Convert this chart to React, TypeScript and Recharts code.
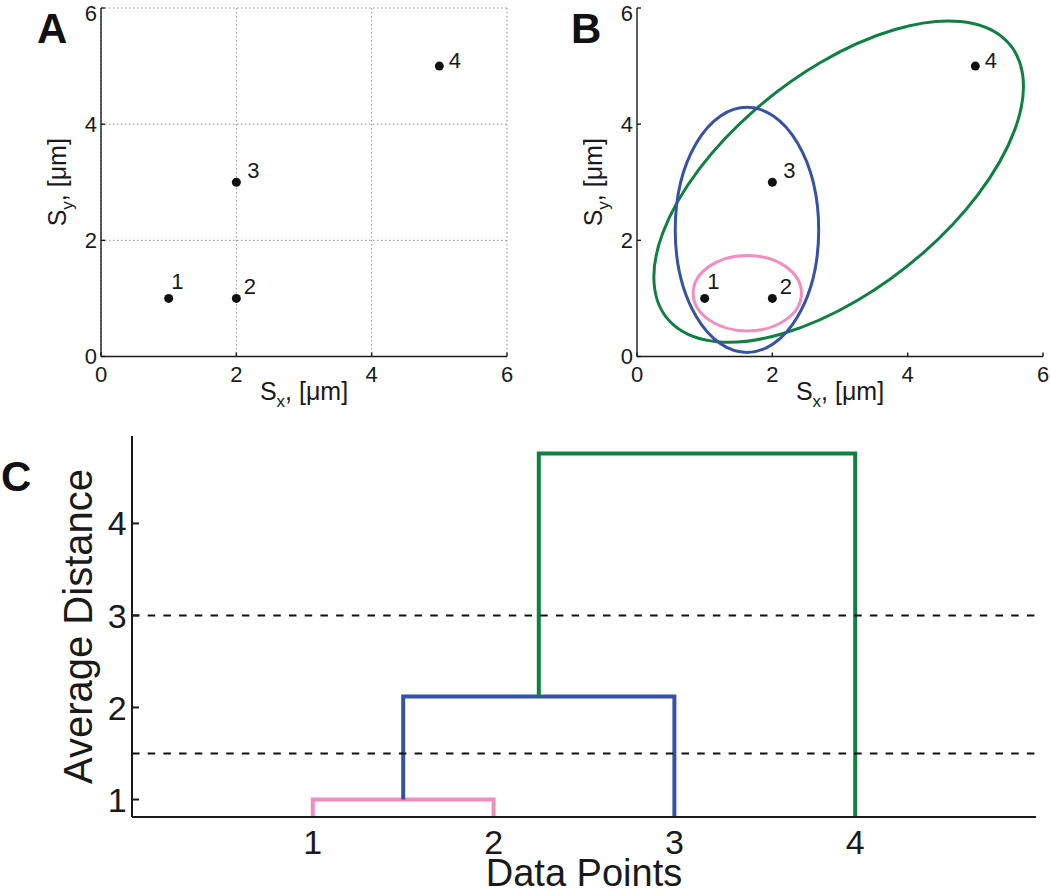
import React from 'react';
import * as Recharts from 'recharts';
import { ScatterChart, Scatter, XAxis, YAxis, CartesianGrid, LineChart, Line, ReferenceLine, Label } from 'recharts';

const R: any = Recharts;
const usePlot: () => any = R.usePlotArea ?? (() => null);

const FONT = '"Liberation Sans", Arial, Helvetica, sans-serif';
const INK = '#1a1a1a';
const PINK = '#f28dbf';
const BLUE = '#3552a5';
const GREEN = '#0f8042';

// panels A and B: the four points (µm)
const points = [
  { x: 1, y: 1, name: '1' },
  { x: 2, y: 1, name: '2' },
  { x: 2, y: 3, name: '3' },
  { x: 5, y: 5, name: '4' },
];
const spaceDomain = [0, 6];
const spaceTicks = [0, 2, 4, 6];

// panel B: cluster ellipses, centre + semi-axes in µm, tilt in degrees
const pinkEllipse = { cx: 1.63, cy: 1.09, rx: 0.8, ry: 0.65, tilt: 0 };
const blueEllipse = { cx: 1.625, cy: 2.18, rx: 1.06, ry: 2.11, tilt: 0 };
const greenEllipse = { cx: 2.98, cy: 3.01, rx: 3.47, ry: 1.75, tilt: 45.6 };

// panel C: dendrogram links (leaf position, average distance)
const pinkLink = [{ x: 1, y: 0 }, { x: 1, y: 1 }, { x: 2, y: 1 }, { x: 2, y: 0 }];
const blueLink = [{ x: 1.5, y: 1 }, { x: 1.5, y: 2.12 }, { x: 3, y: 2.12 }, { x: 3, y: 0 }];
const greenLink = [{ x: 2.25, y: 2.12 }, { x: 2.25, y: 4.76 }, { x: 4, y: 4.76 }, { x: 4, y: 0 }];
const cutHeights = [3, 1.5];
const leafDomain = [0, 5];
const leafTicks = [1, 2, 3, 4];
const distDomain = [0.81, 4.95];
const distTicks = [1, 2, 3, 4];

// where each point's number sits relative to its dot
const labelNudge: Record<string, [number, number]> = {
  '1': [2.5, -9],
  '2': [7.5, -4.5],
  '3': [11, -4],
  '4': [9.5, 1.5],
};

const SubTitle = ({ x, y, main, sub, rest, vertical }: any) => (
  <text
    x={x}
    y={y}
    transform={vertical ? `rotate(-90 ${x} ${y})` : undefined}
    textAnchor="middle"
    fontSize={25}
    fontFamily={FONT}
    fill={INK}
  >
    {main}
    <tspan fontSize={17} dy={7}>{sub}</tspan>
    <tspan dy={-7}>{rest}</tspan>
  </text>
);

const EllipseLayer = ({ shapes }: { shapes: { spec: any; color: string }[] }) => {
  const plot = usePlot();
  if (!plot) return null;
  const span = spaceDomain[1] - spaceDomain[0];
  const sx = plot.width / span;
  const sy = plot.height / span;
  return (
    <g>
      {shapes.map(({ spec, color }, i) => {
        const t = (spec.tilt * Math.PI) / 180;
        const px = plot.x + (spec.cx - spaceDomain[0]) * sx;
        const py = plot.y + plot.height - (spec.cy - spaceDomain[0]) * sy;
        const a = sx * Math.cos(t) * spec.rx;
        const b = -sy * Math.sin(t) * spec.rx;
        const c = -sx * Math.sin(t) * spec.ry;
        const d = -sy * Math.cos(t) * spec.ry;
        return (
          <circle
            key={i}
            cx={0}
            cy={0}
            r={1}
            transform={`matrix(${a} ${b} ${c} ${d} ${px} ${py})`}
            fill="none"
            stroke={color}
            strokeWidth={3}
            vectorEffect="non-scaling-stroke"
          />
        );
      })}
    </g>
  );
};

const renderPoint = (p: any) => {
  const [dx, dy] = labelNudge[p.payload.name] ?? [9, -3];
  return (
    <g>
      <circle cx={p.cx} cy={p.cy} r={4.5} fill="#111" />
      <text x={p.cx + dx} y={p.cy + dy} fontSize={22} fontFamily={FONT} fill={INK}>
        {p.payload.name}
      </text>
    </g>
  );
};

const axisLine = { stroke: INK, strokeWidth: 1.4 };
const smallTick = { fontSize: 22, fill: INK, fontFamily: FONT };

const SpacePanel = ({ left, width, axisWidth, rightGap, grid, ellipses }: any) => (
  <div style={{ position: 'absolute', left, top: 0 }}>
    <ScatterChart width={width} height={420} margin={{ top: 8, right: rightGap, bottom: 0, left: 0 }}>
      {grid && (
        <CartesianGrid xAxisId="bottom" yAxisId="left" stroke="#8f8f8f" strokeDasharray="1.5 2.5" />
      )}
      <XAxis
        xAxisId="bottom"
        type="number"
        dataKey="x"
        domain={spaceDomain}
        ticks={spaceTicks}
        height={63.5}
        tickSize={-4}
        tickMargin={13.5}
        axisLine={axisLine}
        tickLine={axisLine}
        tick={smallTick}
      >
        <Label
          content={(p: any) => (
            <SubTitle x={p.viewBox.x + p.viewBox.width / 2} y={p.viewBox.y + 43.5} main="S" sub="x" rest=", [μm]" />
          )}
        />
      </XAxis>
      <XAxis
        xAxisId="top"
        orientation="top"
        type="number"
        domain={spaceDomain}
        ticks={spaceTicks}
        height={0}
        tickSize={-4}
        tick={false}
        axisLine={axisLine}
        tickLine={axisLine}
      />
      <YAxis
        yAxisId="left"
        type="number"
        dataKey="y"
        domain={spaceDomain}
        ticks={spaceTicks}
        width={axisWidth}
        tickSize={-4}
        tickMargin={8}
        axisLine={axisLine}
        tickLine={axisLine}
        tick={smallTick}
      >
        <Label
          content={(p: any) => (
            <SubTitle
              x={p.viewBox.x + p.viewBox.width - 35}
              y={p.viewBox.y + p.viewBox.height / 2}
              main="S"
              sub="y"
              rest=", [μm]"
              vertical
            />
          )}
        />
      </YAxis>
      <YAxis
        yAxisId="right"
        orientation="right"
        type="number"
        domain={spaceDomain}
        ticks={spaceTicks}
        width={0}
        tickSize={-4}
        tick={false}
        axisLine={axisLine}
        tickLine={axisLine}
      />
      {ellipses && <EllipseLayer shapes={ellipses} />}
      <Scatter
        xAxisId="bottom"
        yAxisId="left"
        data={points}
        shape={renderPoint}
        isAnimationActive={false}
      />
    </ScatterChart>
  </div>
);

const bigTick = { fontSize: 34, fill: INK, fontFamily: FONT };
const thickAxis = { stroke: INK, strokeWidth: 2 };

const DendrogramPanel = () => (
  <div style={{ position: 'absolute', left: 0, top: 430 }}>
    <LineChart width={1050} height={465} margin={{ top: 6, right: 14, bottom: 0, left: 0 }}>
      <XAxis
        type="number"
        dataKey="x"
        domain={leafDomain}
        ticks={leafTicks}
        allowDataOverflow
        height={78}
        tickSize={0}
        tickMargin={13}
        tickLine={false}
        axisLine={thickAxis}
        tick={bigTick}
      >
        <Label
          content={(p: any) => (
            <text
              x={p.viewBox.x + p.viewBox.width / 2}
              y={p.viewBox.y + 69}
              textAnchor="middle"
              fontSize={38}
              fontFamily={FONT}
              fill={INK}
            >
              Data Points
            </text>
          )}
        />
      </XAxis>
      <YAxis
        type="number"
        domain={distDomain}
        ticks={distTicks}
        allowDataOverflow
        width={132}
        tickSize={-7}
        tickMargin={12.3}
        axisLine={thickAxis}
        tickLine={thickAxis}
        tick={bigTick}
      >
        <Label
          content={(p: any) => {
            const x = p.viewBox.x + 92;
            const y = p.viewBox.y + p.viewBox.height / 2;
            return (
              <text
                x={x}
                y={y}
                transform={`rotate(-90 ${x} ${y})`}
                textAnchor="middle"
                fontSize={40}
                fontFamily={FONT}
                fill={INK}
              >
                Average Distance
              </text>
            );
          }}
        />
      </YAxis>
      <Line data={pinkLink} dataKey="y" type="linear" stroke={PINK} strokeWidth={4} dot={false} isAnimationActive={false} />
      <Line data={blueLink} dataKey="y" type="linear" stroke={BLUE} strokeWidth={4} dot={false} isAnimationActive={false} />
      <Line data={greenLink} dataKey="y" type="linear" stroke={GREEN} strokeWidth={4} dot={false} isAnimationActive={false} />
      {cutHeights.map((h) => (
        <ReferenceLine key={h} y={h} stroke="#111" strokeWidth={2} strokeDasharray="7.5 8.2" />
      ))}
    </LineChart>
  </div>
);

export default function App() {
  return (
    <div
      style={{
        position: 'absolute',
        left: 0,
        top: 0,
        width: 1050,
        height: 895,
        overflow: 'hidden',
        background: '#fff',
        fontFamily: FONT,
      }}
    >
      <SpacePanel left={0} width={520} axisWidth={101} rightGap={13} grid />
      <SpacePanel
        left={520}
        width={530}
        axisWidth={117}
        rightGap={7}
        ellipses={[
          { spec: greenEllipse, color: GREEN },
          { spec: blueEllipse, color: BLUE },
          { spec: pinkEllipse, color: PINK },
        ]}
      />
      <DendrogramPanel />
      <svg width={1050} height={895} style={{ position: 'absolute', left: 0, top: 0, pointerEvents: 'none' }}>
        <text x={37} y={43} fontSize={42} fontWeight="bold" fontFamily={FONT} fill="#111">A</text>
        <text x={571} y={43} fontSize={42} fontWeight="bold" fontFamily={FONT} fill="#111">B</text>
        <text x={1} y={491} fontSize={42} fontWeight="bold" fontFamily={FONT} fill="#111">C</text>
      </svg>
    </div>
  );
}
